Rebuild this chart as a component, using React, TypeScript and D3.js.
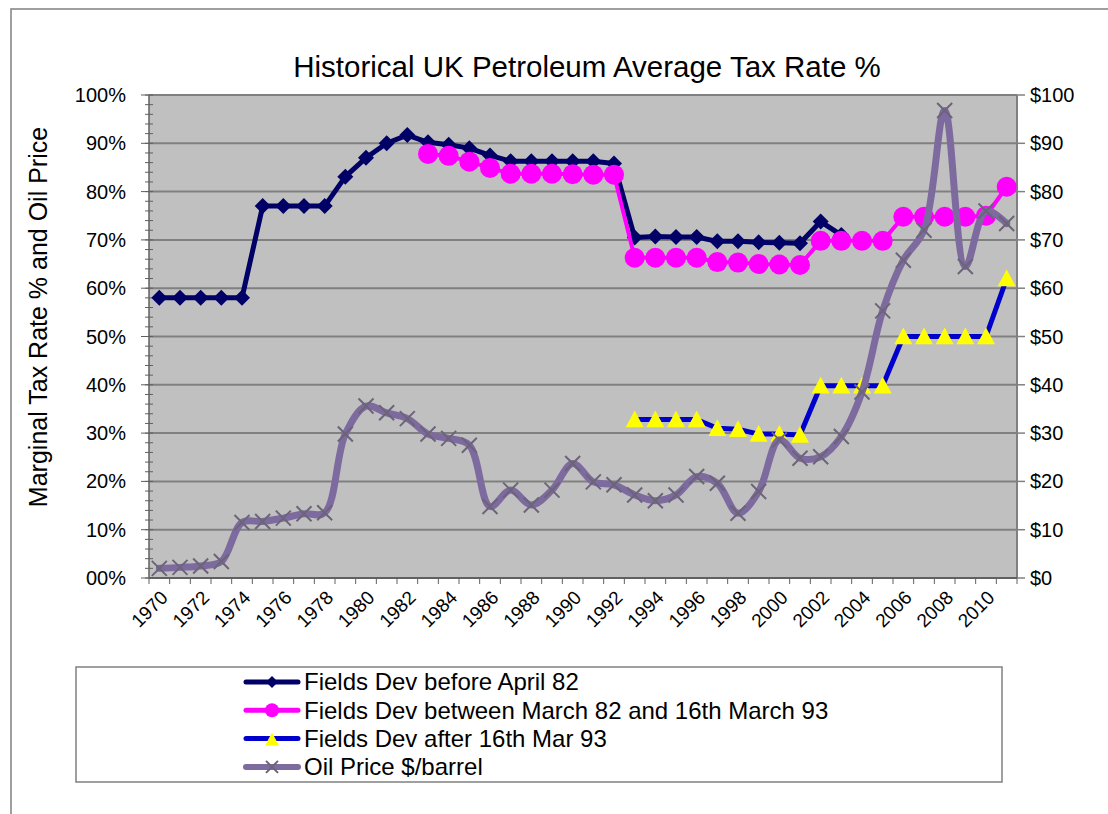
import React from "react";
import * as d3 from "d3";

const years = d3.range(1970, 2012);
const tickYears = d3.range(1970, 2011, 2);
const leftTicks = [0, 10, 20, 30, 40, 50, 60, 70, 80, 90, 100];
const leftTickLabels = ["00%", "10%", "20%", "30%", "40%", "50%", "60%", "70%", "80%", "90%", "100%"];
const rightTickLabels = ["$0", "$10", "$20", "$30", "$40", "$50", "$60", "$70", "$80", "$90", "$100"];

// marginal tax rate %, null where the series has no value
const beforeApril82 = [
  58, 58, 58, 58, 58, 77, 77, 77, 77, 83.1, 87, 90, 91.7,
  90.2, 89.7, 89, 87.5, 86.3, 86.3, 86.3, 86.3, 86.3, 85.8,
  70.5, 70.7, 70.6, 70.6, 69.7, 69.7, 69.5, 69.4, 69.3, 73.8, 71,
  null, null, null, null, null, null, null, null,
];
const between82and93 = [
  null, null, null, null, null, null, null, null, null, null, null, null, null,
  87.8, 87.4, 86.2, 84.9, 83.7, 83.7, 83.7, 83.6, 83.5, 83.5,
  66.3, 66.3, 66.3, 66.3, 65.4, 65.3, 65, 64.9, 64.8, 69.8, 69.8, 69.8, 69.8,
  74.8, 74.8, 74.8, 74.8, 75, 81,
];
const after16Mar93 = [
  null, null, null, null, null, null, null, null, null, null, null, null, null,
  null, null, null, null, null, null, null, null, null, null,
  32.8, 32.8, 32.8, 32.8, 31, 30.8, 29.8, 29.8, 29.6, 39.8, 39.8, 39.8, 39.8,
  50, 50, 50, 50, 50, 62,
];
// oil price $/barrel (right axis)
const oilPrice = [
  2, 2.2, 2.5, 3.4, 11.5, 11.7, 12.4, 13.3, 13.5, 29.8, 35.6, 34.2, 33,
  29.8, 28.9, 27.5, 14.8, 18.2, 15.1, 18.2, 23.7, 19.9, 19.3,
  17.2, 16, 17.2, 21, 19.6, 13.4, 17.9, 28.6, 24.8, 25.1, 29.3, 38.5,
  55.3, 65.8, 72, 96.8, 64.5, 76, 73.4,
];

const W = 1108;
const H = 814;
const left = 149;
const right = 1017;
const top = 95;
const bottom = 578;

const x = d3.scaleBand<number>().domain(years).range([left, right]);
const cx = (yr: number) => (x(yr) as number) + x.bandwidth() / 2;
const yL = d3.scaleLinear().domain([0, 100]).range([bottom, top]);
const yR = d3.scaleLinear().domain([0, 100]).range([bottom, top]);

const font = "Liberation Sans, Arial, sans-serif";

type Pt = { yr: number; v: number };
const pts = (vals: (number | null)[]): Pt[] =>
  vals.map((v, i) => ({ yr: years[i], v: v as number })).filter((d) => d.v != null);

const straight = d3.line<Pt>().x((d) => cx(d.yr)).y((d) => yL(d.v));
const smooth = d3
  .line<Pt>()
  .x((d) => cx(d.yr))
  .y((d) => yR(d.v))
  .curve(d3.curveCatmullRom.alpha(0.5));

const navy = "#000066";
const pink = "#ff00ff";
const blue = "#0000cc";
const yellow = "#ffff00";
const purple = "#7d6a9e";
const xMark = "#6c6478";

function Diamond({ x0, y0, s }: { x0: number; y0: number; s: number }) {
  return <path d={`M${x0},${y0 - s}L${x0 + s},${y0}L${x0},${y0 + s}L${x0 - s},${y0}Z`} fill={navy} />;
}
function Tri({ x0, y0, s }: { x0: number; y0: number; s: number }) {
  return <path d={`M${x0},${y0 - s}L${x0 + s},${y0 + s * 0.85}L${x0 - s},${y0 + s * 0.85}Z`} fill={yellow} />;
}
function Cross({ x0, y0, s }: { x0: number; y0: number; s: number }) {
  return (
    <path
      d={`M${x0 - s},${y0 - s}L${x0 + s},${y0 + s}M${x0 - s},${y0 + s}L${x0 + s},${y0 - s}`}
      stroke={xMark}
      strokeWidth={2}
    />
  );
}

const legendItems = [
  "Fields Dev before April 82",
  "Fields Dev between March 82 and 16th March 93",
  "Fields Dev after 16th Mar 93",
  "Oil Price $/barrel",
];

export default function App() {
  const s1 = pts(beforeApril82);
  const s2 = pts(between82and93);
  const s3 = pts(after16Mar93);
  const s4 = pts(oilPrice);
  const minor = d3.range(0, 101, 2);
  const boundaries = d3.range(years.length + 1).map((i) => left + i * x.step());

  return (
    <svg
      width={W}
      height={H}
      style={{ position: "absolute", left: 0, top: 0, background: "#fff" }}
      fontFamily={font}
    >
      <rect x={11} y={9} width={W + 10} height={H + 10} fill="#fff" stroke="#808080" strokeWidth={1.5} />
      <text x={587} y={77} textAnchor="middle" fontSize={29.5} fill="#000">
        Historical UK Petroleum Average Tax Rate %
      </text>

      {/* plot area */}
      <rect x={left} y={top} width={right - left} height={bottom - top} fill="#c0c0c0" />
      {leftTicks.map((t) => (
        <line key={t} x1={left} x2={right} y1={yL(t)} y2={yL(t)} stroke="#808080" strokeWidth={2} />
      ))}
      <line x1={right} x2={right} y1={top} y2={bottom} stroke="#808080" strokeWidth={2} />

      {/* left axis */}
      <line x1={left} x2={left} y1={top} y2={bottom} stroke="#606060" strokeWidth={1.5} />
      {minor.map((t) => (
        <line key={t} x1={left - 4} x2={left + 4} y1={yL(t)} y2={yL(t)} stroke="#606060" strokeWidth={1} />
      ))}
      {leftTicks.map((t) => (
        <line key={t} x1={left - 8} x2={left} y1={yL(t)} y2={yL(t)} stroke="#606060" strokeWidth={1} />
      ))}
      {leftTicks.map((t, i) => (
        <text key={t} x={126} y={yL(t)} dy="0.35em" textAnchor="end" fontSize={20} fill="#000">
          {leftTickLabels[i]}
        </text>
      ))}

      {/* right axis */}
      {leftTicks.map((t) => (
        <line key={t} x1={right} x2={right + 8} y1={yR(t)} y2={yR(t)} stroke="#808080" strokeWidth={1.5} />
      ))}
      {leftTicks.map((t, i) => (
        <text key={t} x={1030} y={yR(t)} dy="0.35em" textAnchor="start" fontSize={20} fill="#000">
          {rightTickLabels[i]}
        </text>
      ))}

      {/* x axis */}
      <line x1={left} x2={right} y1={bottom} y2={bottom} stroke="#606060" strokeWidth={2} />
      {boundaries.map((b, i) => (
        <line key={i} x1={b} x2={b} y1={bottom} y2={bottom + 6} stroke="#606060" strokeWidth={1} />
      ))}
      {tickYears.map((yr) => (
        <text
          key={yr}
          transform={`translate(${cx(yr) + 5},${bottom + 16}) rotate(-45)`}
          textAnchor="end"
          dy="0.35em"
          fontSize={19}
          fill="#000"
        >
          {yr}
        </text>
      ))}

      <text
        transform={`translate(38,317) rotate(-90)`}
        textAnchor="middle"
        dy="0.35em"
        fontSize={25}
        fill="#000"
      >
        Marginal Tax Rate % and Oil Price
      </text>

      {/* series */}
      <path d={straight(s1) || ""} fill="none" stroke={navy} strokeWidth={5} strokeLinejoin="round" />
      {s1.map((d) => (
        <Diamond key={d.yr} x0={cx(d.yr)} y0={yL(d.v)} s={8} />
      ))}
      <path d={straight(s2) || ""} fill="none" stroke={pink} strokeWidth={4} strokeLinejoin="round" />
      {s2.map((d) => (
        <circle key={d.yr} cx={cx(d.yr)} cy={yL(d.v)} r={10} fill={pink} />
      ))}
      <path d={straight(s3) || ""} fill="none" stroke={blue} strokeWidth={5} strokeLinejoin="round" />
      {s3.map((d) => (
        <Tri key={d.yr} x0={cx(d.yr)} y0={yL(d.v)} s={9} />
      ))}
      <path d={smooth(s4) || ""} fill="none" stroke={purple} strokeWidth={7} strokeLinejoin="round" strokeLinecap="round" />
      {s4.map((d) => (
        <Cross key={d.yr} x0={cx(d.yr)} y0={yR(d.v)} s={7.5} />
      ))}

      {/* legend */}
      <rect x={76} y={667} width={926} height={115} fill="#fff" stroke="#808080" strokeWidth={1.5} />
      {legendItems.map((t, i) => {
        const ly = 682 + i * 28.3;
        return (
          <g key={t}>
            <line
              x1={246}
              x2={298}
              y1={ly}
              y2={ly}
              stroke={[navy, pink, blue, purple][i]}
              strokeWidth={i === 3 ? 6 : 5}
              strokeLinecap="round"
            />
            {i === 0 && <Diamond x0={272} y0={ly} s={6} />}
            {i === 1 && <circle cx={272} cy={ly} r={7} fill={pink} />}
            {i === 2 && <Tri x0={272} y0={ly + 1} s={7} />}
            {i === 3 && <Cross x0={272} y0={ly} s={6} />}
            <text x={304} y={ly} dy="0.35em" fontSize={24} fill="#000">
              {t}
            </text>
          </g>
        );
      })}
    </svg>
  );
}
